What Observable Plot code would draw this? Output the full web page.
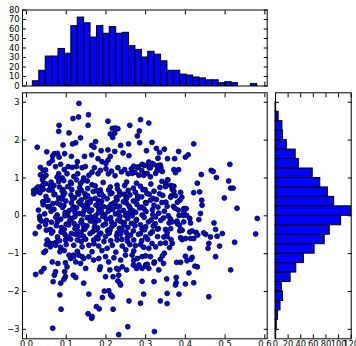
<!DOCTYPE html>
<html><head><meta charset="utf-8">
<script src="https://cdn.jsdelivr.net/npm/d3@7"></script>
<script src="https://cdn.jsdelivr.net/npm/@observablehq/plot@0.6"></script>
<style>
html,body{margin:0;padding:0;background:#fff;}
#wrap{position:relative;width:356px;height:346px;overflow:hidden;background:#fff;}
#wrap svg{position:absolute;left:0;top:0;overflow:visible;background:transparent;}
</style></head><body><div id="wrap"></div>
<script>
// ---- data ----
const topBinStart = 0.016, topBinWidth = 0.01614;
const topCounts = [5,16,31,31,39,34,63,72,66,51,63,55,62,55,56,42,38,30,36,33,26,16,16,12,11,9,8,6,6,3,4,3,0,0,2];
const rightBinStart = -3.25, rightBinWidth = 0.25;
const rightCounts = [1,2,4,8,12,10,24,33,45,62,78,86,104,120,93,83,71,59,37,32,18,12,11,5,1,0]; // bottom to top
const xTicks = [0,0.1,0.2,0.3,0.4,0.5,0.6];
const yTicks = [-3,-2,-1,0,1,2,3];
const topCountTicks = [0,10,20,30,40,50,60,70,80];
const rightCountTicks = [0,20,40,60,80,100,120];

const outerPoints = [
[0.132,2.97],[0.117,2.57],[0.131,2.61],[0.156,2.67],[0.155,2.39],[0.082,2.39],[0.081,2.23],[0.107,2.19],[0.205,2.50],
[0.216,2.31],[0.224,2.32],[0.230,2.30],[0.211,2.16],[0.222,2.18],[0.217,2.07],
[0.260,2.39],[0.287,2.54],[0.308,2.45],[0.284,2.24],[0.279,2.11],
[0.136,2.06],[0.124,1.93],[0.116,1.90],[0.092,1.87],[0.027,1.81],[0.051,1.69],[0.070,1.64],[0.066,1.58],[0.078,1.65],[0.096,1.64],[0.082,1.55],[0.113,1.57],[0.146,1.57],
[0.164,1.86],[0.170,1.81],[0.174,1.96],[0.188,1.72],[0.205,1.74],[0.237,1.86],[0.257,1.90],[0.222,1.70],[0.243,1.66],[0.285,1.93],[0.302,1.72],[0.258,1.59],[0.211,1.57],
[0.164,1.61],[0.180,1.51],[0.190,1.43],[0.200,1.38],[0.205,1.47],
[0.035,1.28],[0.042,1.20],[0.048,1.21],[0.057,1.39],[0.065,1.46],[0.073,1.30],[0.086,1.36],[0.095,1.22],[0.105,1.30],[0.115,1.28],[0.128,1.43],[0.126,1.30],[0.140,1.27],[0.148,1.30],
[0.018,0.67],[0.025,0.72],[0.036,0.76],[0.044,1.02],[0.049,1.07],[0.040,0.95],[0.042,0.83],[0.062,0.89],[0.065,0.67],[0.069,0.80],[0.077,1.02],[0.081,1.11],[0.090,1.00],[0.094,0.93],[0.102,1.11],[0.111,0.89],[0.119,1.04],[0.126,0.95],[0.129,1.11],[0.136,0.85],[0.144,1.00],[0.153,0.92],[0.157,1.07],
[0.165,1.15],[0.171,1.27],[0.180,1.11],[0.186,1.20],
[0.200,1.24],[0.206,1.11],[0.214,1.18],[0.223,1.06],[0.230,1.27],[0.239,1.16],[0.247,1.22],[0.256,1.11],[0.264,1.24],[0.273,1.15],[0.281,1.29],[0.290,1.20],[0.298,1.11],[0.309,1.27],
[0.018,0.58],[0.025,0.64],[0.044,0.38],[0.042,0.29],[0.034,-0.09],[0.037,-0.14],[0.035,1.08],[0.029,0.76],[0.048,0.85],[0.048,-0.93],
[0.270,1.31],[0.279,1.28],[0.291,1.36],[0.308,1.34],[0.316,1.38],[0.329,1.31],[0.337,1.34],[0.342,1.17],[0.325,1.12],[0.312,1.03],[0.304,1.12],[0.295,1.07],[0.283,1.07],[0.266,1.12],[0.350,0.85],[0.363,0.80],[0.371,0.78],[0.356,0.95],[0.367,0.70],[0.388,0.62],[0.371,0.65],
[0.316,1.94],[0.327,1.78],[0.335,1.67],[0.347,1.76],[0.331,1.52],[0.355,1.51],[0.373,1.51],[0.383,1.70],[0.400,1.55],[0.407,1.61],[0.421,1.90],[0.512,1.36],[0.440,1.09],[0.465,1.20],[0.470,1.17],[0.478,1.01],[0.509,0.92],[0.514,0.73],[0.520,0.73],[0.498,0.47],[0.530,0.20],[0.430,0.86],[0.421,0.61],[0.436,0.63],[0.441,0.41],[0.442,0.28],[0.367,0.78],[0.365,0.53],[0.375,0.53],[0.386,0.41],[0.391,0.49],[0.380,0.36],[0.396,0.19],[0.402,0.19],[0.371,1.22],[0.383,1.22],[0.375,1.14],[0.355,0.95],[0.351,0.82],[0.338,1.27],[0.333,1.33],[0.329,1.20],[0.339,1.20],[0.320,1.36],[0.312,1.27],[0.308,1.42],[0.297,1.33],[0.370,0.25],[0.382,0.15],
[0.022,-0.47],[0.023,-1.55],[0.037,-1.48],[0.044,-1.39],[0.044,-0.97],[0.050,-0.76],[0.055,-0.70],[0.065,-1.22],[0.067,-1.74],[0.070,-1.57],[0.073,-1.48],[0.060,-0.82],[0.069,-0.73],[0.076,-0.69],[0.084,-0.95],[0.086,-1.78],[0.084,-2.09],[0.087,-2.47],[0.066,-2.97],[0.079,-1.26],[0.098,-1.24],[0.102,-1.35],[0.096,-1.48],[0.098,-1.61],[0.094,-1.68],[0.111,-1.13],[0.118,-1.04],[0.124,-1.22],[0.136,-1.26],[0.140,-1.08],[0.149,-1.39],[0.118,-1.57],[0.124,-1.63],[0.144,-1.78],[0.157,-2.07],[0.176,-2.40],[0.183,-2.46],[0.155,-2.59],[0.164,-2.71],[0.165,-2.66],[0.191,-2.16],[0.196,-1.99],[0.207,-1.98],[0.216,-2.14],[0.212,-2.09],[0.218,-2.47],[0.231,-1.42],[0.232,-1.57],[0.235,-1.78],[0.230,-1.72],[0.237,-1.83],[0.258,-2.25],[0.255,-2.93],[0.232,-3.14],[0.287,-2.31],[0.295,-2.07],[0.184,-1.42],[0.186,-1.35],[0.199,-1.61],[0.210,-1.43],[0.218,-1.61],[0.227,-1.39],[0.241,-1.35],[0.252,-1.43],[0.269,-1.30],[0.277,-1.39],[0.291,-1.39],[0.300,-1.30],[0.308,-1.39],
[0.581,-0.07],[0.577,-0.48],[0.524,-0.70],[0.514,-1.43],[0.472,-0.19],[0.476,-0.36],[0.493,-0.47],[0.480,-0.54],[0.463,-0.56],[0.451,-0.49],[0.446,-0.45],[0.486,-0.80],[0.476,-1.08],[0.459,-0.73],[0.457,-0.86],[0.459,-2.14],[0.434,-0.10],[0.438,0.06],[0.427,-0.44],[0.431,-0.51],[0.421,-0.60],[0.413,-0.60],[0.411,-0.86],[0.417,-1.10],[0.430,-1.35],[0.421,-1.77],[0.409,-1.51],[0.424,-1.33],[0.400,-1.07],[0.404,-1.19],[0.414,-1.15],[0.400,-1.80],[0.377,-1.63],[0.377,-1.77],[0.375,-1.83],[0.384,-2.07],[0.354,-2.05],[0.353,-1.67],[0.337,-2.25],[0.354,-2.32],[0.322,-3.06],[0.321,-1.74],[0.378,-1.23],[0.388,-1.23],[0.400,-0.60],[0.392,-0.63],[0.386,-0.40],[0.392,-0.38],[0.411,-0.43],[0.417,-0.40],[0.396,-0.16],[0.413,-0.19],[0.411,-0.07],[0.403,0.01],[0.394,0.01],[0.396,0.10],[0.384,0.01],[0.380,-0.21],[0.385,-0.25],[0.360,-0.84],[0.367,-0.73],[0.364,-0.63],[0.350,-0.72],[0.337,-0.73],[0.325,-0.82],[0.316,-0.73],[0.308,-0.86],[0.312,-1.08],[0.322,-1.22],[0.333,-1.43],[0.337,-1.15],[0.345,-1.26],[0.347,-0.99],[0.291,-1.08],[0.300,-1.33],[0.291,-1.73],
[0.367,-0.16],[0.379,-0.14],[0.350,-0.36],[0.363,-0.34],[0.388,-0.37],[0.346,-0.56],[0.354,-0.55],[0.388,-0.58],[0.274,-0.79],[0.287,-0.76],[0.295,-0.83],[0.266,-1.04],[0.270,-1.18],[0.279,-1.13],[0.300,-1.06],[0.342,-1.06],[0.283,-1.30],[0.304,-1.28],[0.321,-1.25]
];

const corePoints = [
[0.060,0.80],[0.081,0.90],[0.113,0.85],[0.142,0.92],[0.165,0.82],[0.193,0.88],[0.228,0.81],[0.252,0.89],[0.277,0.86],[0.313,0.84],[0.341,0.91],
[0.042,0.70],[0.083,0.76],[0.092,0.69],[0.104,0.77],[0.134,0.74],[0.154,0.72],[0.173,0.79],[0.186,0.68],[0.211,0.76],[0.229,0.71],[0.247,0.80],[0.269,0.73],[0.287,0.78],[0.299,0.69],[0.336,0.75],[0.350,0.77],
[0.034,0.61],[0.056,0.68],[0.071,0.57],[0.090,0.65],[0.096,0.60],[0.114,0.69],[0.129,0.62],[0.138,0.67],[0.147,0.58],[0.168,0.64],[0.177,0.66],[0.188,0.59],[0.207,0.68],[0.215,0.60],[0.234,0.64],[0.246,0.57],[0.256,0.67],[0.274,0.62],[0.293,0.69],[0.303,0.59],[0.321,0.65],[0.335,0.58],
[0.049,0.51],[0.069,0.56],[0.081,0.47],[0.092,0.53],[0.112,0.55],[0.121,0.48],[0.131,0.57],[0.149,0.49],[0.154,0.53],[0.173,0.46],[0.184,0.56],[0.194,0.51],[0.211,0.58],[0.226,0.48],[0.234,0.54],[0.251,0.47],[0.260,0.55],[0.280,0.52],[0.290,0.50],[0.309,0.57],[0.319,0.46],[0.343,0.54],[0.363,0.49],
[0.041,0.37],[0.054,0.41],[0.077,0.34],[0.089,0.44],[0.099,0.39],[0.116,0.46],[0.132,0.36],[0.138,0.42],[0.153,0.35],[0.162,0.43],[0.181,0.40],[0.189,0.38],[0.203,0.45],[0.220,0.34],[0.228,0.42],[0.244,0.37],[0.252,0.46],[0.269,0.39],[0.279,0.44],[0.300,0.35],[0.312,0.41],[0.327,0.43],[0.351,0.36],
[0.054,0.24],[0.066,0.32],[0.085,0.29],[0.094,0.27],[0.113,0.34],[0.120,0.23],[0.137,0.31],[0.143,0.26],[0.160,0.35],[0.175,0.28],[0.184,0.33],[0.194,0.24],[0.213,0.30],[0.223,0.32],[0.234,0.25],[0.251,0.34],[0.258,0.26],[0.278,0.30],[0.290,0.23],[0.301,0.33],[0.321,0.28],[0.341,0.35],[0.354,0.25],
[0.030,0.15],[0.057,0.24],[0.069,0.17],[0.091,0.22],[0.107,0.13],[0.116,0.19],[0.126,0.21],[0.145,0.14],[0.154,0.23],[0.164,0.15],[0.182,0.19],[0.188,0.12],[0.206,0.22],[0.217,0.17],[0.227,0.24],[0.244,0.14],[0.261,0.20],[0.268,0.13],[0.285,0.21],[0.296,0.18],[0.317,0.16],[0.331,0.23],[0.347,0.12],[0.374,0.20],
[0.046,0.05],[0.062,0.12],[0.077,0.02],[0.097,0.08],[0.104,0.01],[0.122,0.09],[0.133,0.06],[0.142,0.04],[0.159,0.11],[0.174,0.00],[0.181,0.08],[0.197,0.03],[0.206,0.12],[0.224,0.05],[0.233,0.10],[0.249,0.01],[0.256,0.07],[0.275,0.09],[0.291,0.02],[0.301,0.11],[0.318,0.03],[0.333,0.07],[0.357,0.00],
[0.033,-0.01],[0.050,-0.12],[0.074,-0.04],[0.086,-0.09],[0.097,0.00],[0.115,-0.07],[0.122,-0.02],[0.139,-0.11],[0.153,-0.05],[0.162,-0.03],[0.173,-0.10],[0.192,-0.01],[0.201,-0.09],[0.212,-0.05],[0.230,-0.12],[0.235,-0.02],[0.255,-0.07],[0.266,0.00],[0.277,-0.10],[0.296,-0.04],[0.314,-0.11],[0.325,-0.03],[0.345,-0.06],[0.362,-0.08],
[0.048,-0.23],[0.063,-0.17],[0.078,-0.15],[0.100,-0.22],[0.109,-0.13],[0.120,-0.21],[0.137,-0.17],[0.143,-0.24],[0.161,-0.14],[0.172,-0.19],[0.182,-0.12],[0.199,-0.22],[0.214,-0.16],[0.221,-0.23],[0.237,-0.15],[0.246,-0.18],[0.264,-0.20],[0.276,-0.13],[0.287,-0.24],[0.307,-0.16],[0.324,-0.21],[0.338,-0.12],[0.359,-0.19],
[0.032,-0.29],[0.060,-0.36],[0.075,-0.26],[0.088,-0.31],[0.106,-0.24],[0.122,-0.34],[0.128,-0.28],[0.144,-0.35],[0.152,-0.27],[0.171,-0.30],[0.179,-0.32],[0.193,-0.25],[0.209,-0.36],[0.215,-0.28],[0.234,-0.33],[0.245,-0.24],[0.255,-0.31],[0.273,-0.26],[0.291,-0.35],[0.300,-0.29],[0.319,-0.27],[0.332,-0.34],
[0.050,-0.38],[0.066,-0.41],[0.087,-0.43],[0.095,-0.36],[0.113,-0.47],[0.128,-0.39],[0.137,-0.44],[0.147,-0.35],[0.167,-0.42],[0.176,-0.37],[0.187,-0.46],[0.204,-0.40],[0.210,-0.38],[0.229,-0.45],[0.240,-0.36],[0.251,-0.44],[0.269,-0.40],[0.287,-0.47],[0.297,-0.37],[0.317,-0.42],[0.330,-0.35],[0.354,-0.45],
[0.063,-0.46],[0.078,-0.56],[0.097,-0.50],[0.104,-0.57],[0.123,-0.49],[0.134,-0.52],[0.143,-0.54],[0.160,-0.47],[0.176,-0.58],[0.183,-0.50],[0.199,-0.55],[0.208,-0.46],[0.227,-0.53],[0.237,-0.48],[0.254,-0.57],[0.262,-0.51],[0.282,-0.49],[0.300,-0.56],[0.312,-0.47],[0.330,-0.55],
[0.052,-0.64],[0.098,-0.64],[0.111,-0.62],[0.128,-0.64],[0.149,-0.62],[0.169,-0.64],[0.195,-0.68],[0.228,-0.64],[0.254,-0.67],[0.083,-0.66],[0.138,-0.68],[0.180,-0.61],[0.212,-0.66],[0.240,-0.62],[0.270,-0.64],[0.290,-0.66],[0.305,-0.62],
[0.065,-0.74],[0.073,-0.78],[0.119,-0.78],[0.157,-0.78],[0.182,-0.80],[0.216,-0.78],[0.241,-0.80],[0.086,-0.83],[0.140,-0.82],[0.203,-0.86],[0.100,-0.76],[0.170,-0.74],[0.260,-0.76],
[0.095,-0.92],[0.128,-0.94],[0.165,-0.95],[0.190,-0.92],[0.225,-0.96],[0.250,-0.90],[0.270,-0.93],
[0.107,-1.04],[0.119,-1.08],[0.132,-1.04],[0.144,-1.13],[0.157,-1.08],[0.169,-1.17],[0.182,-1.13],[0.199,-1.08],[0.207,-1.22],[0.220,-1.11],[0.237,-1.17],[0.249,-1.04]
];

const scatterPoints = outerPoints.concat(corePoints);

// ---- layout ----
const W = 356, H = 346;
const xDomain = [-0.0101, 0.606];
const yDomain = [-3.25, 3.25];
const style = {fontFamily: "DejaVu Sans", fontSize: "8.3px", color: "black", background: "transparent", overflow: "visible"};
const tickIn = (axis, anchor, ticks) => (axis === "x" ? Plot.axisX : Plot.axisY)({anchor, ticks, tickSize: -4, fill: "none", label: null});
const labels = (axis, anchor, ticks, fmt, pad = 3) => (axis === "x" ? Plot.axisX : Plot.axisY)({anchor, ticks, tickSize: 0, tickPadding: pad, tickFormat: fmt, label: null});

const topBins = topCounts.map((c, i) => ({x1: topBinStart + i * topBinWidth, x2: topBinStart + (i + 1) * topBinWidth, count: c}));
const rightBins = rightCounts.map((c, i) => ({y1: rightBinStart + i * rightBinWidth, y2: rightBinStart + (i + 1) * rightBinWidth, count: c}));

const topPlot = Plot.plot({
  width: W, height: H, style,
  marginLeft: 22, marginRight: W - 266.7, marginTop: 9.5, marginBottom: H - 85.5,
  x: {domain: xDomain}, y: {domain: [0, 80]},
  marks: [
    Plot.rectY(topBins, {x1: "x1", x2: "x2", y1: 0, y2: "count", fill: "#0000ff", stroke: "black", strokeWidth: 1}),
    Plot.frame({stroke: "black"}),
    labels("y", "left", topCountTicks, d3.format("d")),
    tickIn("y", "left", topCountTicks), tickIn("y", "right", topCountTicks),
    tickIn("x", "bottom", xTicks), tickIn("x", "top", xTicks)
  ]
});

const scatterPlot = Plot.plot({
  width: W, height: H, style,
  marginLeft: 22, marginRight: W - 266.7, marginTop: 92.3, marginBottom: H - 338.3,
  x: {domain: xDomain}, y: {domain: yDomain},
  marks: [
    Plot.dot(scatterPoints, {x: d => d[0], y: d => d[1], r: 2.45, fill: "#0000ff", stroke: "black", strokeWidth: 0.8}),
    Plot.frame({stroke: "black"}),
    labels("x", "bottom", xTicks, d3.format(".1f"), 1.8),
    labels("y", "left", yTicks, d3.format("d")),
    tickIn("y", "left", yTicks), tickIn("y", "right", yTicks),
    tickIn("x", "bottom", xTicks), tickIn("x", "top", xTicks)
  ]
});

const rightPlot = Plot.plot({
  width: W, height: H, style,
  marginLeft: 275, marginRight: W - 350.7, marginTop: 92.3, marginBottom: H - 338.3,
  x: {domain: [0, 120]}, y: {domain: yDomain},
  marks: [
    Plot.rectX(rightBins, {y1: "y1", y2: "y2", x1: 0, x2: "count", fill: "#0000ff", stroke: "black", strokeWidth: 1}),
    Plot.frame({stroke: "black"}),
    labels("x", "bottom", rightCountTicks, d3.format("d"), 1.8),
    tickIn("y", "left", yTicks), tickIn("y", "right", yTicks),
    tickIn("x", "bottom", rightCountTicks), tickIn("x", "top", rightCountTicks)
  ]
});

const wrap = document.getElementById("wrap");
wrap.append(topPlot, scatterPlot, rightPlot);
</script></body></html>
